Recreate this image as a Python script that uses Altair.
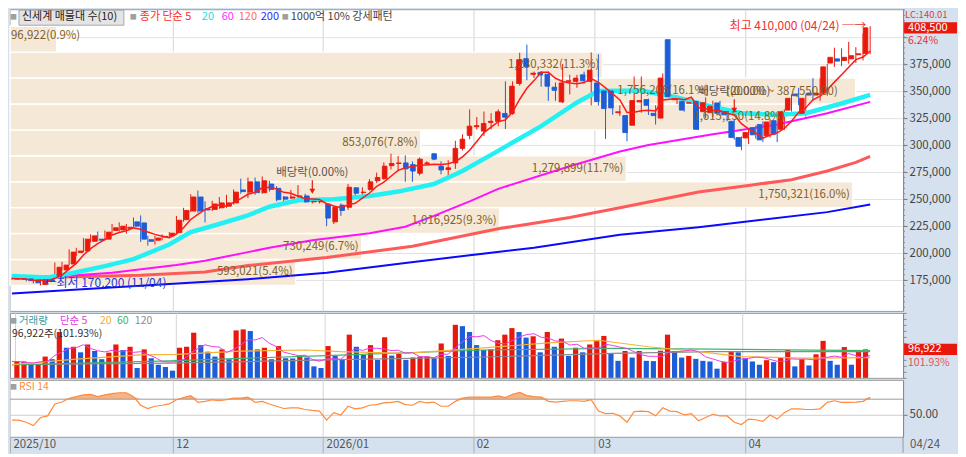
import altair as alt
import pandas as pd

FONT = "Noto Sans CJK KR"
RED = "#e8190c"
BLUE = "#1d5ed6"
BEIGE = "#f6e8d6"
BG = "#d6e1ef"
LABC = "#7d5f2c"

W, HM, HV, HR, AX, XB = 894, 302, 65, 57, 54, 16

# ---------------- daily candles (thousand KRW) ----------------
opens = [
    176.0, 176.0, 176.2, 175.0, 171.0, 175.5, 178.5, 184.5, 190.0, 200.5,
    202.0, 211.0, 213.0, 213.0, 221.0, 221.5, 223.0, 229.0, 228.0, 212.5,
    212.0, 215.0, 216.0, 219.0, 231.0, 239.0, 252.0, 241.0, 240.5, 242.0,
    243.5, 246.5, 258.5, 256.5, 266.0, 256.0, 264.0, 260.0, 252.0, 251.0,
    252.5, 253.0, 247.5, 247.5, 245.5, 229.0, 244.5, 242.5, 260.5, 256.0,
    259.0, 267.0, 269.0, 281.0, 283.0, 283.5, 282.0, 274.0, 283.0, 292.0,
    280.5, 277.5, 283.5, 297.0, 309.0, 317.0, 313.0, 321.0, 322.0, 329.3,
    329.3, 357.0, 380.0, 365.5, 367.3, 365.5, 353.6, 340.0, 359.0, 359.0,
    365.0, 359.0, 357.5, 350.1, 350.1, 330.0, 327.3, 318.4, 340.0, 342.1,
    329.4, 325.0, 397.5, 342.0, 340.4, 338.8, 340.4, 330.9, 330.0, 339.0,
    331.0, 322.0, 307.0, 306.6, 316.0, 319.0, 308.6, 322.6, 314.6, 332.4,
    347.2, 329.4, 348.1, 346.3, 348.1, 375.9, 379.8, 378.3, 379.8, 383.6,
    384.8]
highs = [
    177.0, 177.2, 176.6, 175.6, 178.0, 176.5, 191.5, 192.0, 203.5, 205.0,
    214.0, 217.5, 220.0, 221.0, 227.0, 228.5, 227.0, 233.0, 235.0, 216.0,
    216.0, 217.5, 219.5, 234.5, 242.0, 254.5, 258.0, 248.0, 248.5, 252.0,
    254.0, 259.0, 269.0, 270.0, 270.0, 271.0, 267.0, 262.0, 253.0, 258.5,
    263.0, 255.0, 249.0, 249.5, 246.0, 243.0, 246.0, 264.0, 261.0, 261.0,
    268.5, 274.5, 284.0, 292.0, 290.0, 290.5, 285.0, 288.5, 285.0, 292.5,
    285.0, 286.0, 304.0, 310.0, 333.0, 326.0, 331.0, 329.5, 333.0, 359.0,
    359.0, 385.5, 393.0, 368.0, 368.5, 368.0, 358.0, 375.0, 365.0, 365.0,
    368.0, 385.7, 384.0, 352.0, 351.0, 336.8, 328.0, 363.5, 363.5, 343.0,
    336.8, 366.4, 398.0, 346.0, 342.0, 340.0, 341.0, 344.2, 341.0, 341.0,
    334.0, 324.0, 308.0, 314.0, 318.0, 322.0, 324.0, 323.0, 333.0, 347.0,
    353.0, 347.0, 362.0, 362.0, 375.3, 390.1, 389.5, 395.5, 390.6, 403.5,
    410.0]
lows = [
    175.5, 175.6, 174.0, 172.0, 170.2, 173.0, 178.0, 184.0, 189.0, 197.5,
    201.0, 210.0, 211.0, 212.0, 218.0, 220.0, 218.0, 224.0, 210.5, 207.0,
    208.0, 212.0, 214.0, 217.5, 229.0, 238.0, 237.5, 228.5, 239.0, 241.0,
    242.0, 245.0, 255.0, 251.0, 254.0, 255.0, 257.0, 248.0, 247.5, 250.0,
    248.0, 246.5, 246.0, 246.0, 225.0, 227.0, 234.5, 240.0, 251.0, 251.0,
    258.0, 265.0, 268.0, 277.5, 276.0, 266.0, 266.0, 272.0, 282.0, 286.0,
    273.0, 271.5, 278.0, 295.0, 305.5, 314.5, 308.5, 314.5, 317.5, 315.0,
    328.0, 355.0, 360.0, 362.0, 354.0, 341.0, 341.0, 339.0, 347.0, 353.0,
    357.0, 336.8, 336.7, 305.7, 328.0, 327.0, 303.6, 318.0, 330.0, 327.9,
    319.0, 324.9, 345.0, 338.0, 331.0, 338.0, 314.0, 325.0, 326.0, 327.0,
    322.0, 305.0, 295.3, 301.0, 306.0, 302.7, 307.0, 302.7, 314.0, 331.0,
    336.8, 326.4, 341.0, 341.0, 345.7, 372.4, 373.0, 375.3, 376.0, 378.3,
    384.0]
closes = [
    176.5, 176.4, 174.6, 172.6, 175.5, 174.0, 187.0, 189.0, 201.0, 202.0,
    213.0, 216.0, 212.0, 219.5, 223.5, 225.0, 224.0, 225.0, 213.0, 211.0,
    214.0, 215.5, 218.5, 230.5, 239.5, 252.0, 239.0, 240.0, 245.5, 246.5,
    246.5, 256.5, 257.0, 266.0, 256.0, 267.0, 259.0, 249.5, 250.0, 252.0,
    253.0, 247.5, 248.0, 248.0, 232.5, 242.5, 239.5, 261.0, 255.5, 256.5,
    266.0, 270.0, 280.5, 283.0, 283.5, 278.0, 276.0, 287.0, 283.5, 287.0,
    277.0, 279.0, 297.0, 305.5, 317.5, 318.0, 320.0, 322.0, 330.8, 325.8,
    354.5, 379.0, 372.5, 366.5, 364.9, 354.5, 350.7, 357.5, 359.5, 362.0,
    359.5, 369.4, 340.3, 333.8, 334.4, 330.8, 311.6, 341.2, 341.2, 336.8,
    327.3, 362.0, 345.0, 343.0, 332.4, 339.2, 314.6, 339.2, 336.0, 329.5,
    328.0, 307.0, 298.9, 311.6, 309.5, 304.8, 321.4, 310.1, 330.9, 343.3,
    345.7, 343.3, 346.3, 348.1, 372.4, 381.2, 377.7, 381.2, 382.7, 384.5,
    408.5]
# volume (thousand shares)
volumes = [
    55.7, 55.7, 44.6, 45.5, 72.4, 63.5, 156.0, 102.5, 105.8, 86.9,
    113.6, 91.3, 63.5, 85.8, 113.6, 94.7, 105.8, 33.4, 96.9, 66.8,
    44.6, 36.8, 24.5, 102.5, 105.8, 153.7, 111.4, 89.1, 72.4, 96.9,
    63.5, 161.5, 164.9, 159.3, 96.9, 102.5, 63.5, 108.1, 66.8, 66.0,
    74.6, 69.1, 39.0, 33.4, 108.1, 74.6, 61.3, 147.0, 105.8, 78.0,
    111.4, 61.3, 138.1, 75.8, 83.6, 61.3, 69.1, 72.4, 73.0, 66.8,
    117.0, 74.6, 180.5, 176.0, 156.0, 111.4, 94.7, 96.9, 128.1, 147.0,
    169.3, 156.0, 137.0, 141.5, 86.9, 156.0, 105.8, 133.7, 74.6, 102.5,
    86.9, 113.6, 124.8, 142.6, 83.6, 57.9, 91.3, 69.1, 91.3, 57.9,
    57.0, 92.5, 147.0, 91.3, 69.1, 74.6, 64.6, 57.9, 55.7, 31.2,
    53.5, 91.3, 86.9, 66.8, 55.7, 44.6, 60.2, 53.5, 69.1, 94.7,
    39.0, 63.5, 42.3, 80.2, 125.9, 57.9, 44.6, 104.7, 44.6, 89.1,
    96.922]
rsi14 = [
    42.4, 42.4, 39.5, 35.2, 45.8, 48.0, 63.7, 66.2, 71.3, 73.4,
    75.6, 76.4, 73.4, 75.6, 77.3, 78.5, 78.5, 73.4, 62.0, 57.7,
    60.7, 62.0, 63.7, 69.2, 72.2, 74.7, 65.8, 67.1, 69.2, 67.9,
    69.2, 71.3, 71.3, 72.6, 65.8, 67.1, 63.7, 60.7, 57.7, 58.6,
    58.6, 56.4, 55.2, 54.3, 42.4, 52.2, 49.2, 60.7, 57.3, 58.6,
    62.0, 62.8, 65.0, 65.8, 67.1, 62.8, 62.0, 67.1, 65.0, 66.2,
    60.7, 60.7, 67.1, 71.3, 72.6, 72.6, 72.6, 72.6, 74.3, 72.2,
    76.4, 79.0, 74.7, 73.4, 72.6, 67.1, 66.2, 67.1, 67.9, 67.9,
    67.1, 69.2, 54.3, 50.9, 51.4, 48.0, 39.5, 53.5, 54.3, 53.5,
    48.0, 58.6, 54.3, 53.5, 49.2, 50.9, 41.6, 45.8, 50.1, 47.9,
    47.9, 39.5, 36.5, 43.7, 42.9, 40.7, 49.2, 43.7, 52.2, 57.3,
    57.3, 56.4, 56.4, 57.3, 65.8, 67.9, 65.8, 65.8, 66.2, 67.1,
    72.6]

# moving averages (index, thousand KRW)
ma20_idx = [0, 5, 8, 13, 17, 22, 25, 29, 33, 36, 40, 45, 50, 54, 59, 63, 67, 74, 79, 82,
            88, 93, 97, 102, 107, 111, 116, 120]
ma20_val = [179.0, 177.5, 181.0, 188.0, 194.5, 208.0, 219.5, 227.0, 235.0, 243.0, 249.0,
            250.0, 253.0, 257.0, 264.0, 276.0, 291.0, 317.5, 339.5, 350.0, 350.5, 344.0,
            337.0, 329.5, 328.0, 329.5, 338.5, 346.5]
ma60_idx = [0, 6, 14, 23, 27, 33, 36, 42, 50, 55, 59, 64, 68, 78, 85, 89, 98, 107, 114, 120]
ma60_val = [178.0, 178.3, 182.0, 189.0, 193.0, 201.0, 205.0, 212.0, 218.5, 224.5, 234.5,
            248.0, 259.5, 280.5, 294.0, 300.0, 310.0, 319.0, 329.5, 340.0]
ma120_idx = [0, 9, 18, 27, 33, 44, 56, 68, 73, 78, 85, 96, 103, 109, 114, 118, 120]
ma120_val = [178.0, 178.3, 179.7, 182.7, 188.6, 196.0, 206.4, 222.7, 227.7, 233.0, 242.0,
             256.7, 262.7, 268.0, 276.0, 284.0, 289.5]
ma200_idx = [0, 33, 44, 55, 64, 73, 85, 96, 114, 120]
ma200_val = [162.6, 176.0, 182.0, 191.0, 198.0, 205.0, 217.0, 224.0, 238.0, 245.0]

vma20_idx = [0, 9, 18, 23, 32, 41, 46, 55, 66, 75, 82, 89, 96, 102, 111, 120]
vma20_val = [45.0, 63.5, 78.0, 80.0, 91.0, 94.7, 89.0, 83.6, 102.0, 119.0, 128.0, 105.8,
             89.0, 72.4, 66.8, 69.0]
vma60_idx = [0, 22, 44, 66, 84, 98, 120]
vma60_val = [44.6, 58.0, 75.8, 94.7, 100.0, 98.0, 92.5]
vma120_idx = [0, 22, 44, 66, 84, 98, 120]
vma120_val = [44.6, 50.0, 61.3, 71.0, 83.6, 89.0, 89.0]

# volume profile (매물대, 10 bands from low to high)
band_vol = [593021, 730249, 1016925, 1750321, 1279899, 853076, 1615150, 1756206, 1230332, 96922]
band_pct = [5.4, 6.7, 9.3, 16.0, 11.7, 7.8, 14.8, 16.1, 11.3, 0.9]
period_low, low_date = 170200, "11/04"
period_high, high_date = 410000, "04/24"

exdiv_idx = [42, 101]
range_text = "(200.00 ~ 387,550.00)"
month_start = [23, 44, 65, 82, 103]
month_labels = ["2025/10", "12", "2026/01", "02", "03", "04"]
last_date = "04/24"
vol_ratio_text = "101.93%"
lc_text = "LC:140.01"

# ---------------- frames ----------------
N = min(len(opens), len(highs), len(lows), len(closes), len(volumes), len(rsi14))
df = pd.DataFrame({
    "i": list(range(N)),
    "o": [x * 1000 for x in opens[:N]],
    "h": [x * 1000 for x in highs[:N]],
    "l": [x * 1000 for x in lows[:N]],
    "c": [x * 1000 for x in closes[:N]],
    "v": [round(x * 1000) for x in volumes[:N]],
    "rsi": rsi14[:N],
})
df["top"] = df[["o", "c"]].max(axis=1)
df["bot"] = df[["o", "c"]].min(axis=1)
df["dir"] = ["up" if c >= o else "dn" for o, c in zip(df.o, df.c)]
prev_v = df.v.shift(1).fillna(0)
df["vdir"] = ["up" if v >= p else "dn" for v, p in zip(df.v, prev_v)]

span = (period_high - period_low) / len(band_vol)
band_df = pd.DataFrame({
    "k": list(range(len(band_vol))),
    "vol": band_vol,
    "zero": [0] * len(band_vol),
    "lo": [period_low + k * span for k in range(len(band_vol))],
    "hi": [period_low + (k + 1) * span for k in range(len(band_vol))],
    "label": [f"{v:,}({p:.1f}%)" for v, p in zip(band_vol, band_pct)],
})
band_df["mid"] = (band_df.lo + band_df.hi) / 2

dirscale = alt.Scale(domain=["up", "dn"], range=[RED, BLUE])
xs = alt.Scale(domain=[-0.27, 124.6], nice=False, zero=False)
ys = alt.Scale(domain=[146600, 425700], nice=False, zero=False)
vs = alt.Scale(domain=[0, 221000], nice=False, zero=True)
rs = alt.Scale(domain=[20.4, 95.5], nice=False, zero=False)
bxs = alt.Scale(domain=[0, max(band_vol) / 0.947], nice=False, zero=True)

grid_vals = [-0.27] + [m - 0.5 for m in month_start]
gridax = alt.Axis(values=grid_vals, labels=False, ticks=False, domain=False, grid=True,
                  gridColor="#d4d4d4", title=None, minExtent=0, maxExtent=0)

expr = f"'{month_labels[-1]}'"
for k in range(len(month_labels) - 2, -1, -1):
    expr = f"datum.value < {grid_vals[k + 1] - 0.1} ? '{month_labels[k]}' : ({expr})"
xax_bottom = alt.Axis(values=grid_vals, labelExpr=expr, tickSize=XB, tickColor="#b0b0b0",
                      grid=True, gridColor="#d4d4d4", domain=False, labelAlign="left",
                      labelBaseline="middle", labelPadding=-XB / 2, labelOffset=3,
                      labelColor="#555", labelFontSize=11.5, labelFont=FONT,
                      labelFlush=False, labelOverlap=False, labelBound=False,
                      minExtent=XB, maxExtent=XB, title=None)

yax_main = alt.Axis(orient="right", values=list(range(175000, 400001, 25000)),
                    labelExpr="datum.value == 400000 ? '' : format(datum.value, ',d')",
                    grid=True, gridColor="#e2e2e2", tickSize=4, tickColor="#777",
                    domainColor="#8a8a8a", labelColor="#444", labelFontSize=11.5,
                    labelFont=FONT, labelPadding=2, minExtent=AX, maxExtent=AX, title=None)
vax = alt.Axis(orient="right", values=list(range(0, 220001, 20000)), labels=False,
               tickSize=3, tickColor="#888", grid=False, domainColor="#8a8a8a",
               minExtent=AX, maxExtent=AX, title=None)
rax = alt.Axis(orient="right", values=[50], format=".2f", grid=True, gridColor="#cfcfcf",
               tickSize=4, tickColor="#777", domainColor="#8a8a8a", labelColor="#444",
               labelFontSize=11.5, labelFont=FONT, labelPadding=2, minExtent=AX,
               maxExtent=AX, title=None)

one = pd.DataFrame({"a": [0]})


def X(field="i:Q", axis=None):
    return alt.X(field, scale=xs, axis=axis)


def line_layer(idx, vals, color, width, scale, mult=1000):
    d = pd.DataFrame({"i": idx, "p": [v * mult for v in vals]})
    return alt.Chart(d).mark_line(color=color, strokeWidth=width, clip=True).encode(
        x=X(), y=alt.Y("p:Q", scale=scale, axis=None))


def txt_layer(rows, y, size=11.5):
    d = pd.DataFrame(rows, columns=["px", "txt", "col"])
    return alt.Chart(d).mark_text(align="left", baseline="middle", fontSize=size,
                                  font=FONT).encode(
        x=alt.X("px:Q", scale=None, axis=None), y=alt.value(y), text="txt:N",
        color=alt.Color("col:N", scale=None))


# ---------------- main price panel ----------------
bands = alt.Chart(band_df).mark_rect(color=BEIGE, stroke="white", strokeWidth=1.4).encode(
    x=alt.X("zero:Q", scale=bxs, axis=None), x2="vol:Q",
    y=alt.Y("lo:Q", scale=ys, axis=yax_main), y2="hi:Q")

minor = alt.Chart(pd.DataFrame({"p": list(range(150000, 425001, 5000))})).mark_rule(
    color="#8a8a8a", strokeWidth=1).encode(
    x=alt.value(W), x2=alt.value(W + 2), y=alt.Y("p:Q", scale=ys, axis=None))

wick = alt.Chart(df).mark_rule(strokeWidth=1).encode(
    x=X(axis=gridax), y=alt.Y("l:Q", scale=ys, axis=None), y2="h:Q",
    color=alt.Color("dir:N", scale=dirscale, legend=None))
body = alt.Chart(df).mark_bar(size=4.6, strokeWidth=0.9).encode(
    x=X(), y=alt.Y("bot:Q", scale=ys, axis=None), y2="top:Q",
    color=alt.Color("dir:N", scale=dirscale, legend=None),
    stroke=alt.Stroke("dir:N", scale=dirscale, legend=None))

ma5 = alt.Chart(df).transform_window(
    ma5="mean(c)", frame=[-4, 0], sort=[alt.SortField("i")]).mark_line(
    color="#ff1a1a", strokeWidth=1.5).encode(x=X(), y=alt.Y("ma5:Q", scale=ys, axis=None))

lab_a = alt.Chart(band_df).transform_filter("datum.k != 7 && datum.k != 9").mark_text(
    align="right", baseline="middle", dx=-3, fontSize=11.5, font=FONT, color=LABC).encode(
    x=alt.X("vol:Q", scale=bxs, axis=None), y=alt.Y("mid:Q", scale=ys, axis=None),
    text="label:N")
lab_b = alt.Chart(band_df).transform_filter("datum.k == 9").mark_text(
    align="left", baseline="middle", dx=1, dy=-3, fontSize=11.5, font=FONT, color=LABC).encode(
    x=alt.value(0), y=alt.Y("mid:Q", scale=ys, axis=None), text="label:N")
lab_c = alt.Chart(band_df).transform_filter("datum.k == 7").mark_text(
    align="right", baseline="middle", dx=-147, fontSize=11.5, font=FONT, color=LABC).encode(
    x=alt.X("vol:Q", scale=bxs, axis=None), y=alt.Y("mid:Q", scale=ys, axis=None),
    text="label:N")

ex_df = df[df.i.isin(exdiv_idx)]
ex_text = alt.Chart(ex_df).mark_text(dy=-27, fontSize=11.5, font=FONT, color="#555",
                                     baseline="middle").encode(
    x=X(), y=alt.Y("h:Q", scale=ys, axis=None), text=alt.value("배당락(0.00%)"))
ex_rule = alt.Chart(ex_df).mark_rule(color=RED, strokeWidth=1.2, yOffset=-20,
                                     y2Offset=-11).encode(
    x=X(), y=alt.Y("h:Q", scale=ys, axis=None), y2="h:Q")
ex_tri = alt.Chart(ex_df).mark_point(shape="triangle-down", filled=True, size=34, color=RED,
                                     opacity=1, yOffset=-9).encode(
    x=X(), y=alt.Y("h:Q", scale=ys, axis=None))
rng_txt = alt.Chart(ex_df.tail(1)).mark_text(align="left", baseline="middle", dx=-8, dy=-27,
                                             fontSize=11.5, font=FONT, color=LABC).encode(
    x=X(), y=alt.Y("h:Q", scale=ys, axis=None), text=alt.value(range_text))

hi_df = df[df.h == df.h.max()].tail(1)
lo_df = df[df.l == df.l.min()].head(1)
hi_txt = alt.Chart(hi_df).mark_text(align="right", baseline="middle", dx=-4, fontSize=12,
                                    font=FONT, color="#f03030").encode(
    x=X(), y=alt.Y("h:Q", scale=ys, axis=None),
    text=alt.value(f"최고 {period_high:,} ({high_date}) ─→"))
lo_txt = alt.Chart(lo_df).mark_text(align="left", baseline="middle", dx=4, dy=-2, fontSize=12,
                                    font=FONT, color="#2438d8").encode(
    x=X(), y=alt.Y("l:Q", scale=ys, axis=None),
    text=alt.value(f"←최저 {period_low:,} ({low_date})"))

hdr_box = alt.Chart(one).mark_rect(fill="#e4e4e4", stroke="#a8a8a8", strokeWidth=1).encode(
    x=alt.value(9), x2=alt.value(114), y=alt.value(1), y2=alt.value(16))
hdr_sq = txt_layer([(0, "■", "#a0a0a0"), (120, "■", "#a0a0a0"), (272, "■", "#a0a0a0")], 8, 7)
hdr_main = txt_layer([
    (12, "신세계 매물대 수(10)", "#222222"),
    (130, "종가 단순 5", "#ff2a2a"),
    (192, "20", "#19dfe6"),
    (212, "60", "#ff2cff"),
    (229, "120", "#ff6a6a"),
    (251, "200", "#2b2bff"),
    (281, "1000억 10% 강세패턴", "#444444"),
], 8, 11)

last_p = df.c.iloc[-1]
chg = (df.c.iloc[-1] / df.c.iloc[-2] - 1) * 100
pdf = pd.DataFrame({"p": [last_p], "t": [last_p + 5200], "b": [last_p - 5200],
                    "lab": [f"{last_p:,.0f}"], "chg": [f"{chg:.2f}%"]})
p_box = alt.Chart(pdf).mark_rect(color=RED).encode(
    x=alt.value(W + 1), x2=alt.value(W + AX), y=alt.Y("t:Q", scale=ys, axis=None), y2="b:Q")
p_lab = alt.Chart(pdf).mark_text(align="left", baseline="middle", fontSize=11, font=FONT,
                                 color="white").encode(
    x=alt.value(W + 5), y=alt.Y("p:Q", scale=ys, axis=None), text="lab:N")
p_chg = alt.Chart(pdf).mark_text(align="left", baseline="middle", dy=13.5, fontSize=10.5,
                                 font=FONT, color="#e83030").encode(
    x=alt.value(W + 5), y=alt.Y("p:Q", scale=ys, axis=None), text="chg:N")
lc = alt.Chart(one).mark_text(align="left", baseline="middle", fontSize=9.5, font=FONT,
                              color="#e03a3a").encode(
    x=alt.value(W + 2), y=alt.value(5.5), text=alt.value(lc_text))

main = alt.layer(
    bands, wick,
    line_layer(ma200_idx, ma200_val, "#0a0aff", 2, ys),
    line_layer(ma120_idx, ma120_val, "#ff5a5a", 3, ys),
    line_layer(ma60_idx, ma60_val, "#ff10ff", 2, ys),
    line_layer(ma20_idx, ma20_val, "#22f0f2", 4.5, ys),
    body, ma5, minor,
    lab_a, lab_b, lab_c, ex_rule, ex_tri, ex_text, rng_txt, hi_txt, lo_txt,
    hdr_box, hdr_sq, hdr_main, p_box, p_lab, p_chg, lc,
).resolve_scale(x="independent").resolve_axis(x="independent", y="independent").properties(
    width=W, height=HM)

# ---------------- volume panel ----------------
vbars = alt.Chart(df).mark_bar(size=5.2).encode(
    x=X(axis=gridax), y=alt.Y("v:Q", scale=vs, axis=vax),
    color=alt.Color("vdir:N", scale=dirscale, legend=None))
vma5 = alt.Chart(df).transform_window(
    vm5="mean(v)", frame=[-4, 0], sort=[alt.SortField("i")]).mark_line(
    color="#ea3ce6", strokeWidth=1).encode(x=X(), y=alt.Y("vm5:Q", scale=vs, axis=None))
last_v = df.v.iloc[-1]
vdf = pd.DataFrame({"p": [last_v], "t": [last_v + 19000], "b": [last_v - 19000],
                    "lab": [f"{last_v:,}"], "r": [vol_ratio_text]})
v_box = alt.Chart(vdf).mark_rect(color=RED).encode(
    x=alt.value(W + 1), x2=alt.value(W + AX), y=alt.Y("t:Q", scale=vs, axis=None), y2="b:Q")
v_lab = alt.Chart(vdf).mark_text(align="left", baseline="middle", fontSize=11, font=FONT,
                                 color="white").encode(
    x=alt.value(W + 5), y=alt.Y("p:Q", scale=vs, axis=None), text="lab:N")
v_r = alt.Chart(vdf).mark_text(align="left", baseline="middle", dy=13.5, fontSize=10.5,
                               font=FONT, color="#e85050").encode(
    x=alt.value(W + 5), y=alt.Y("p:Q", scale=vs, axis=None), text="r:N")
vhdr_sq = txt_layer([(0, "■", "#a0a0a0")], 8, 7)
vhdr = txt_layer([
    (9, "거래량", "#3a9c9c"),
    (50, "단순 5", "#e03ce0"),
    (90, "20", "#f2b02a"),
    (107, "60", "#3cb46e"),
    (125, "120", "#8c8c8c"),
], 8, 10.5)
vhdr2 = txt_layer([(2, f"{last_v:,}주({vol_ratio_text})", "#333333")], 21, 10.5)

vol = alt.layer(
    vbars,
    line_layer(vma120_idx, vma120_val, "#8a8a8a", 1.2, vs),
    line_layer(vma60_idx, vma60_val, "#3cb46e", 1.2, vs),
    line_layer(vma20_idx, vma20_val, "#f4b43a", 1.2, vs),
    vma5, v_box, v_lab, v_r, vhdr_sq, vhdr, vhdr2,
).resolve_scale(x="independent").resolve_axis(x="independent", y="independent").properties(
    width=W, height=HV)

# ---------------- RSI panel ----------------
rarea = alt.Chart(df).transform_calculate(rt="max(datum.rsi, 70)").mark_area(
    color="#f5a66d", opacity=0.85).encode(
    x=X(), y=alt.Y("rt:Q", scale=rs, axis=None), y2=alt.datum(70))
r70 = alt.Chart(pd.DataFrame({"y": [70]})).mark_rule(color="#9a9a9a", strokeWidth=1).encode(
    y=alt.Y("y:Q", scale=rs, axis=None))
rline = alt.Chart(df).mark_line(color="#ff8a3d", strokeWidth=1.2).encode(
    x=X(axis=xax_bottom), y=alt.Y("rsi:Q", scale=rs, axis=rax))
rhdr_sq = txt_layer([(0, "■", "#a0a0a0")], 7, 7)
rhdr = txt_layer([(9, "RSI 14", "#ff8c3a")], 7, 10.5)
ddate = alt.Chart(one).mark_text(align="left", baseline="middle", fontSize=11.5, font=FONT,
                                 color="#555").encode(
    x=alt.value(W + 7), y=alt.value(HR + XB / 2), text=alt.value(last_date))
dsep = alt.Chart(one).mark_rule(color="#9a9a9a").encode(
    x=alt.value(W), y=alt.value(HR), y2=alt.value(HR + XB))

rsi = alt.layer(rarea, r70, rline, rhdr_sq, rhdr, ddate, dsep).resolve_scale(
    x="independent").resolve_axis(x="independent", y="independent").properties(
    width=W, height=HR)

chart = alt.vconcat(main, vol, rsi, spacing=0).resolve_scale(
    x="independent", y="independent").configure(
    background=BG, padding=0, font=FONT).configure_view(
    fill="white", stroke="#9c9c9c", strokeWidth=1)

chart.save("out.html", embed_options={"renderer": "svg", "actions": False})
